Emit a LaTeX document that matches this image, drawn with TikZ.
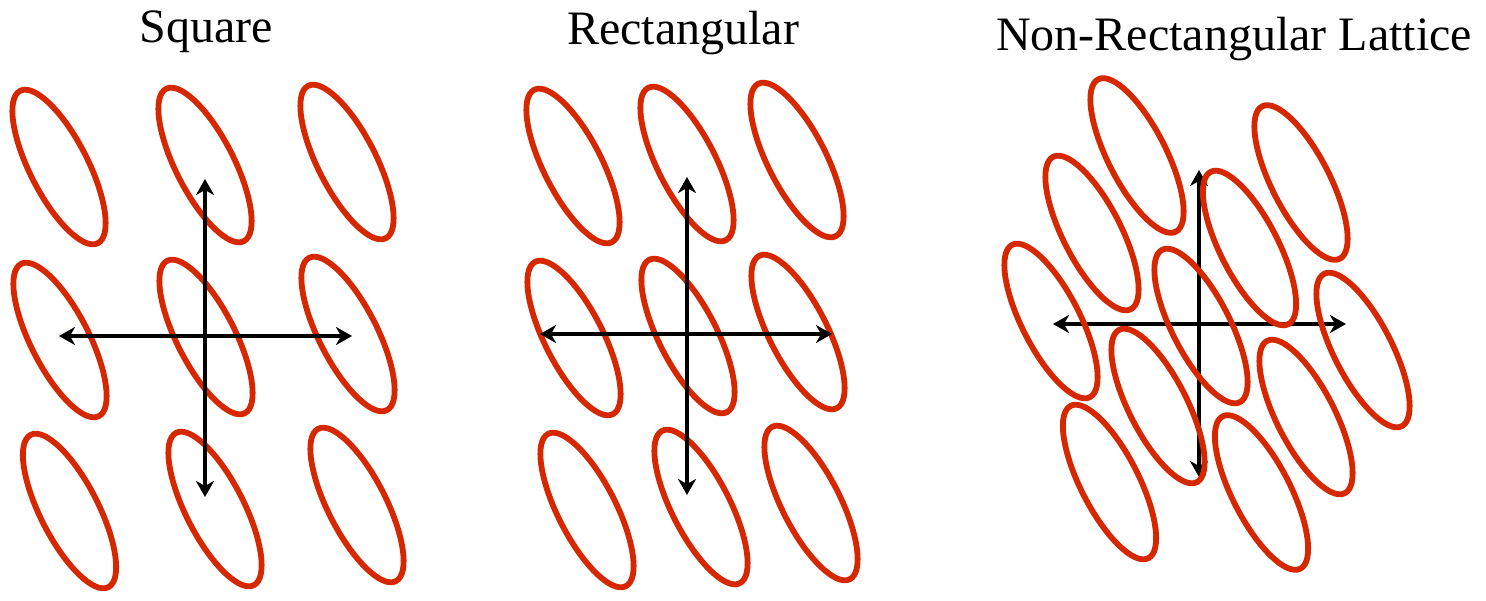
\documentclass[tikz,border=0pt]{standalone}
\usepackage{fontspec}
\setmainfont{Liberation Serif}
\usetikzlibrary{shapes.geometric,arrows.meta}
\definecolor{cellred}{RGB}{213,40,0}
\tikzset{
  cell/.style={draw=cellred, line width=5.8pt, ellipse, minimum width=58pt, minimum height=171pt, inner sep=0pt, rotate=27},
  axis/.style={draw=black, line width=4.5pt, {Stealth[length=16pt,width=18pt,inset=5pt]}-{Stealth[length=16pt,width=18pt,inset=5pt]}},
  title/.style={anchor=base, inner sep=0pt, font=\fontsize{48}{52}\selectfont}
}
\begin{document}
\begin{tikzpicture}[x=1pt,y=-1pt]
\useasboundingbox (0,0) rectangle (1486,600);
% titles
\node[title] (t1) at (206,42) {Square};
\node[title] (t2) at (683,44) {Rectangular};
\node[title] (t3) at (1234,50) {Non-Rectangular Lattice};
% ---- Square panel
\node[cell] (s11) at (59,167) {};
\node[cell] (s12) at (205,165) {};
\node[cell] (s13) at (347,162) {};
\node[cell] (s21) at (60,340) {};
\node[cell] (s22) at (206,337) {};
\node[cell] (s23) at (348,334) {};
\node[cell] (s31) at (69.5,511) {};
\node[cell] (s32) at (215,509) {};
\node[cell] (s33) at (357,505) {};
\coordinate (sL) at (59,336);
\coordinate (sR) at (352,336);
\coordinate (sT) at (205,179);
\coordinate (sB) at (205,497);
\draw[axis] (sL) -- (sR);
\draw[axis] (sT) -- (sB);
% ---- Rectangular panel
\node[cell] (r11) at (573,166) {};
\node[cell] (r12) at (687,164) {};
\node[cell] (r13) at (797,160) {};
\node[cell] (r21) at (574,338) {};
\node[cell] (r22) at (688,336) {};
\node[cell] (r23) at (798,332) {};
\node[cell] (r31) at (587,510) {};
\node[cell] (r32) at (701,507) {};
\node[cell] (r33) at (811,503) {};
\coordinate (rL) at (540,334);
\coordinate (rR) at (832,334);
\coordinate (rT) at (687,177);
\coordinate (rB) at (687,495);
\draw[axis] (rL) -- (rR);
\draw[axis] (rT) -- (rB);
% ---- Non-rectangular panel
\coordinate (nL) at (1053,324);
\coordinate (nR) at (1346,324);
\coordinate (nT) at (1199,170);
\coordinate (nB) at (1199,477);
\draw[axis] (nL) -- (nR);
\draw[axis] (nT) -- (nB);
\node[cell] (n1) at (1137,155.5) {};
\node[cell] (n2) at (1092,233) {};
\node[cell] (n3) at (1051,321) {};
\node[cell] (n4) at (1301,182.5) {};
\node[cell] (n5) at (1249.5,248) {};
\node[cell] (n6) at (1201,326) {};
\node[cell] (n7) at (1363,350) {};
\node[cell] (n8) at (1158,406) {};
\node[cell] (n9) at (1306,417) {};
\node[cell] (n10) at (1109.5,482) {};
\node[cell] (n11) at (1261.5,492.5) {};
\end{tikzpicture}
\end{document}
